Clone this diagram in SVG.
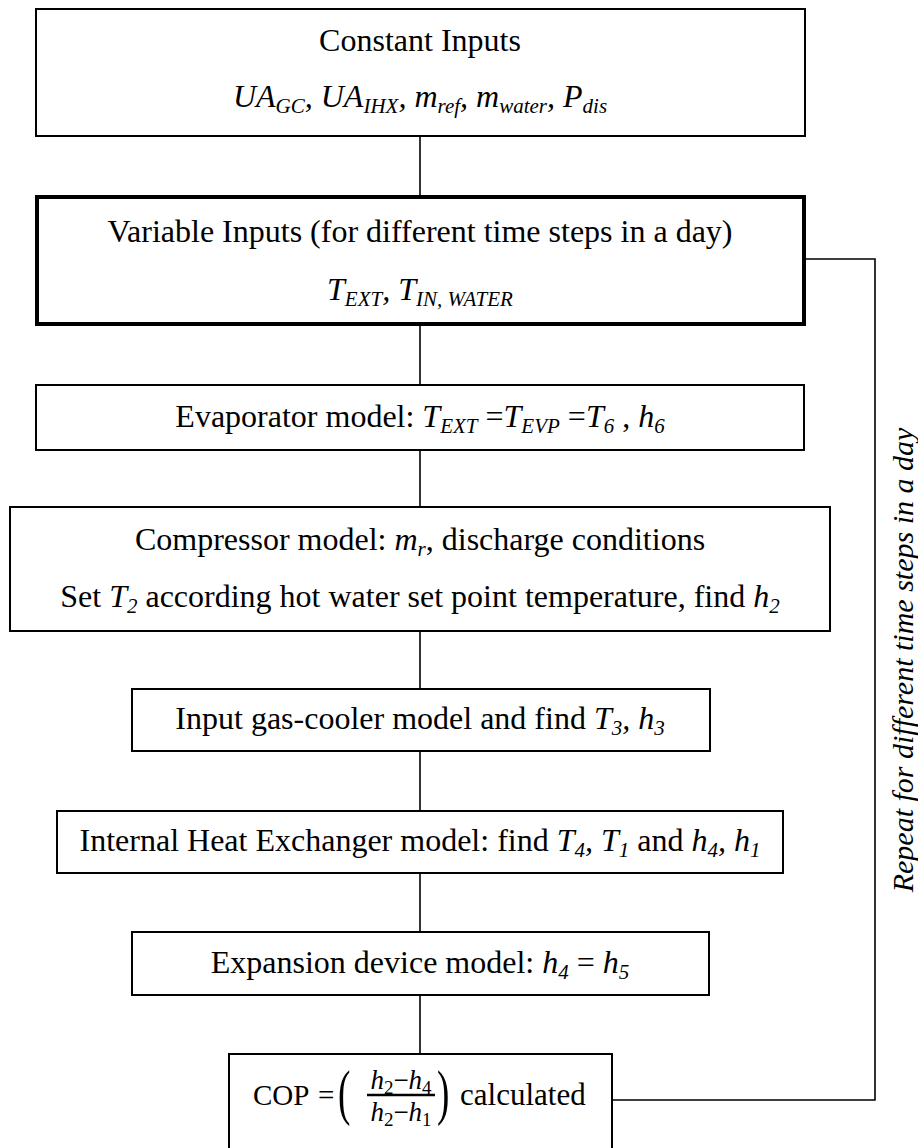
<svg xmlns="http://www.w3.org/2000/svg" width="918" height="1148" viewBox="0 0 918 1148">
<style>
.box{fill:#fff;stroke:#000;stroke-width:2}
.thick{stroke-width:4}
.con{fill:none;stroke:#000;stroke-width:1.6}
text{font-family:"Liberation Serif","Times New Roman",serif;font-size:32px;fill:#000}
.c{text-anchor:middle}
.i{font-style:italic}
.s{font-size:21px;font-style:italic}
.su{font-size:19px;font-style:normal}
.lbl{font-size:30px;font-style:italic;text-anchor:middle}
</style>
<rect width="918" height="1148" fill="#fff"/>
<g id="connectors">
<line class="con" x1="420" y1="136" x2="420" y2="197"/>
<line class="con" x1="420" y1="324" x2="420" y2="385"/>
<line class="con" x1="420" y1="450" x2="420" y2="507"/>
<line class="con" x1="420" y1="631" x2="420" y2="689"/>
<line class="con" x1="420" y1="751" x2="420" y2="811"/>
<line class="con" x1="420" y1="873" x2="420" y2="932"/>
<line class="con" x1="420" y1="995" x2="420" y2="1054"/>
<polyline class="con" points="805,259 875,259 875,1100 612,1100"/>
<text class="lbl" transform="translate(913,660) rotate(-90)">Repeat for different time steps in a day</text>
</g>
<g id="n1">
<rect class="box" x="36" y="9" width="769" height="127"/>
<text class="c" x="420" y="51">Constant Inputs</text>
<text class="c i" x="420" y="107">UA<tspan class="s" dy="6">GC</tspan><tspan dy="-6">, UA</tspan><tspan class="s" dy="6">IHX</tspan><tspan dy="-6">, m</tspan><tspan class="s" dy="6">ref</tspan><tspan dy="-6">, m</tspan><tspan class="s" dy="6">water</tspan><tspan dy="-6">, P</tspan><tspan class="s" dy="6">dis</tspan></text>
</g>
<g id="n2">
<rect class="box thick" x="37" y="197" width="767" height="127"/>
<text class="c" x="420" y="242">Variable Inputs (for different time steps in a day)</text>
<text class="c i" x="420" y="300">T<tspan class="s" dy="6">EXT</tspan><tspan dy="-6">, T</tspan><tspan class="s" dy="6">IN, WATER</tspan></text>
</g>
<g id="n3">
<rect class="box" x="36" y="385" width="768" height="65"/>
<text class="c" x="420" y="427">Evaporator model: <tspan class="i">T</tspan><tspan class="s" dy="6">EXT</tspan><tspan dy="-6"> =</tspan><tspan class="i">T</tspan><tspan class="s" dy="6">EVP</tspan><tspan dy="-6"> =</tspan><tspan class="i">T</tspan><tspan class="s" dy="6">6</tspan><tspan dy="-6"> , </tspan><tspan class="i">h</tspan><tspan class="s" dy="6">6</tspan></text>
</g>
<g id="n4">
<rect class="box" x="10" y="507" width="820" height="124"/>
<text class="c" x="420" y="550">Compressor model: <tspan class="i">m</tspan><tspan class="s" dy="6">r</tspan><tspan dy="-6">, discharge conditions</tspan></text>
<text class="c" x="420" y="607">Set <tspan class="i">T</tspan><tspan class="s" dy="6">2</tspan><tspan dy="-6"> according hot water set point temperature, find </tspan><tspan class="i">h</tspan><tspan class="s" dy="6">2</tspan></text>
</g>
<g id="n5">
<rect class="box" x="132" y="689" width="578" height="62"/>
<text class="c" x="420" y="729">Input gas-cooler model and find <tspan class="i">T</tspan><tspan class="s" dy="6">3</tspan><tspan class="i" dy="-6">, h</tspan><tspan class="s" dy="6">3</tspan></text>
</g>
<g id="n6">
<rect class="box" x="57" y="811" width="726" height="62"/>
<text class="c" x="420" y="851">Internal Heat Exchanger model: find <tspan class="i">T</tspan><tspan class="s" dy="6">4</tspan><tspan class="i" dy="-6">, T</tspan><tspan class="s" dy="6">1</tspan><tspan dy="-6"> and </tspan><tspan class="i">h</tspan><tspan class="s" dy="6">4</tspan><tspan class="i" dy="-6">, h</tspan><tspan class="s" dy="6">1</tspan></text>
</g>
<g id="n7">
<rect class="box" x="132" y="932" width="577" height="63"/>
<text class="c" x="420" y="973">Expansion device model: <tspan class="i">h</tspan><tspan class="s" dy="6">4</tspan><tspan dy="-6"> = </tspan><tspan class="i">h</tspan><tspan class="s" dy="6">5</tspan></text>
</g>
<g id="n8">
<rect class="box" x="229" y="1054" width="383" height="96"/>
<text x="253" y="1105" style="font-size:29px">COP</text>
<text x="318" y="1105" style="font-size:29px">=</text>
<text transform="translate(338,1113) scale(0.6,1)" style="font-size:62px">(</text>
<text class="c i" x="401" y="1089" style="font-size:27px">h<tspan class="su" dy="5">2</tspan><tspan style="font-style:normal" dy="-5">−</tspan>h<tspan class="su" dy="5">4</tspan></text>
<line x1="367" y1="1095" x2="435" y2="1095" stroke="#000" stroke-width="2.6"/>
<text class="c i" x="401" y="1121" style="font-size:27px">h<tspan class="su" dy="5">2</tspan><tspan style="font-style:normal" dy="-5">−</tspan>h<tspan class="su" dy="5">1</tspan></text>
<text transform="translate(437,1113) scale(0.6,1)" style="font-size:62px">)</text>
<text x="460" y="1105" style="font-size:31px">calculated</text>
</g>
</svg>
